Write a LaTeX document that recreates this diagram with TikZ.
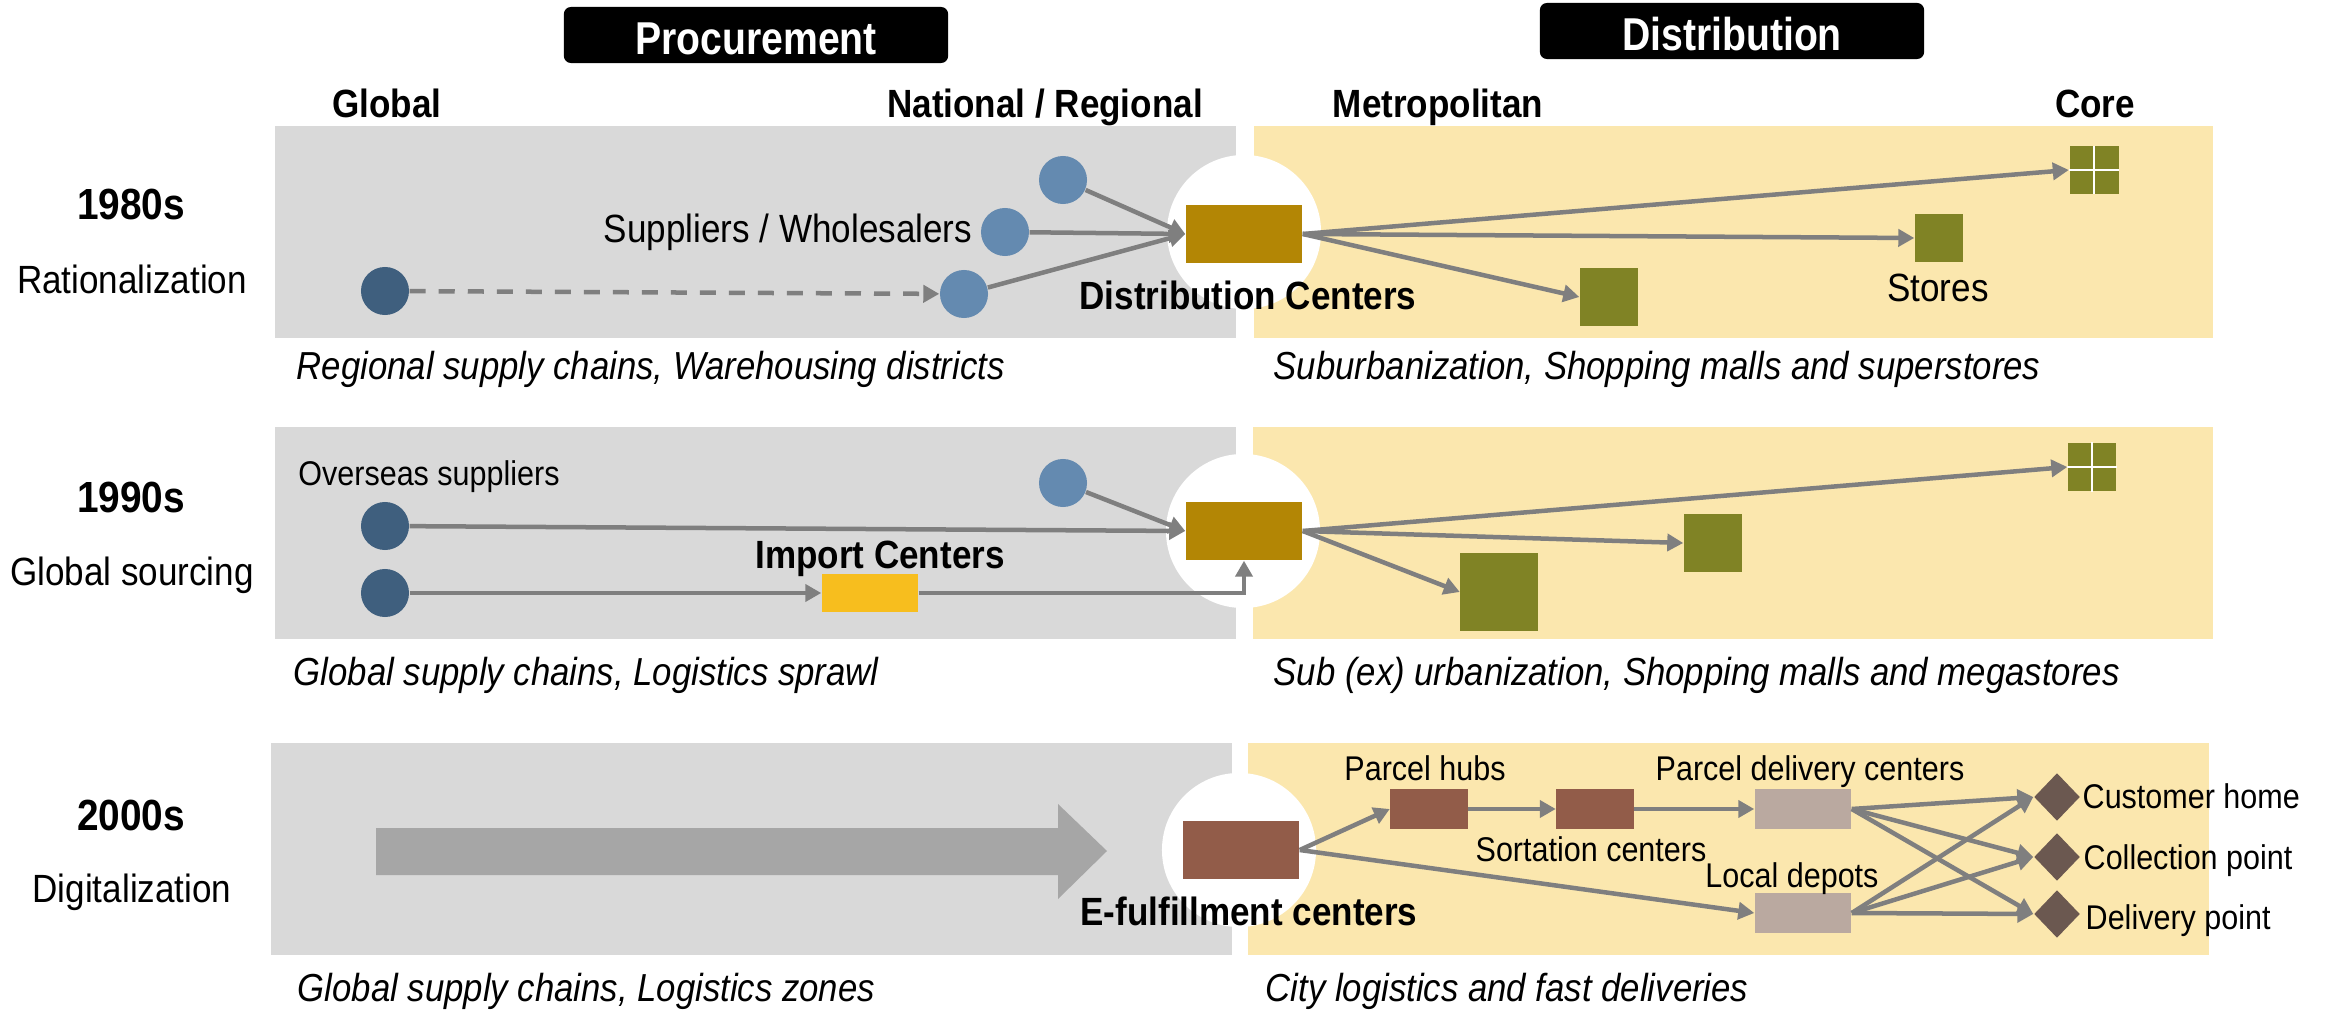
\documentclass[tikz,border=0pt]{standalone}
\usepackage{fontspec}
\setmainfont[FakeStretch=0.89]{Liberation Sans}
\newfontfamily\bannerfont[FakeStretch=0.85]{Liberation Sans}
\usetikzlibrary{shapes.geometric, arrows.meta}

\definecolor{procfill}{HTML}{D9D9D9}
\definecolor{distfill}{HTML}{FBE7AE}
\definecolor{linegray}{HTML}{7F7F7F}
\definecolor{dcfill}{HTML}{B38605}
\definecolor{suppfill}{HTML}{648AB0}
\definecolor{overfill}{HTML}{3F5F7E}
\definecolor{storefill}{HTML}{808325}
\definecolor{importfill}{HTML}{F7BE1E}
\definecolor{parcelfill}{HTML}{925C49}
\definecolor{depotfill}{HTML}{BAA9A0}
\definecolor{homefill}{HTML}{6B5850}

\tikzset{
  base/.style = {font = \fontsize{11.2}{13}\selectfont, inner sep = 0,
        text height = 0.29cm, text depth = 0.08cm},
  small/.style = {font = \fontsize{9.75}{12}\selectfont, inner sep = 0,
        text height = 0.25cm, text depth = 0.07cm},
  strong/.style = {base, font = \fontsize{11.2}{13}\selectfont\bfseries},
  decade/.style = {base, font = \fontsize{12.4}{14}\selectfont\bfseries,
        text height = 0.32cm, text depth = 0.09cm},
  note/.style = {base, anchor = west, font = \fontsize{11.1}{13}\selectfont\itshape},
  banner/.style = {shape = rectangle, rounded corners = 0.07cm, fill = black, text = white,
        minimum width = 3.84cm, minimum height = 0.56cm, inner sep = 0,
        text height = 0.39cm,
        font = \bannerfont\fontsize{13.1}{15}\selectfont\bfseries},
  blob/.style = {shape = rectangle, inner sep = 0, minimum width = #1},
  halo/.style = {shape = circle, fill = white, minimum size = 1.54cm, inner sep = 0},
  dot/.style = {shape = circle, minimum size = 0.48cm, inner sep = 0},
  gem/.style = {shape = diamond, fill = homefill, minimum width = 0.46cm,
        minimum height = 0.48cm, inner sep = 0},
  flow/.style = {draw = linegray, line width = 0.045cm,
        -{Triangle[length = 0.16cm, width = 0.17cm]}}
}

\begin{document}
\begin{tikzpicture}[x = 0.01cm, y = -0.01cm]
  \useasboundingbox (0, 0) rectangle (2330, 1010);

  \foreach \gl/\gr/\dl/\dr/\top in {
    275/1236/1254/2213/126, 275/1236/1253/2213/427, 271/1232/1248/2209/743
  } {
    \fill [procfill] (\gl, \top) rectangle (\gr, \top + 212);
    \fill [distfill] (\dl, \top) rectangle (\dr, \top + 212);
  }

  \foreach \x/\y [count = \id] in {1244/232, 1243/531, 1239/850}
    \node [halo] (halo\id) at (\x, \y) {};

  \node [banner] (proc) at (756, 35) {Procurement};
  \node [banner] (dist) at (1732, 31) {Distribution};

  \foreach \x/\txt [count = \id] in {
    387/Global, 1045/{National / Regional}, 1438/Metropolitan, 2095/Core
  } \node [strong] (scale\id) at (\x, 107) {\txt};

  \foreach \ya/\yb/\yr/\dsc [count = \id] in {
    208/283/1980s/Rationalization,
    501/575/1990s/Global sourcing,
    819/892/2000s/Digitalization
  } {
    \node [decade] (yr\id) at (131, \ya) {\yr};
    \node [base] (dsc\id) at (132, \yb) {\dsc};
  }

  \foreach \x/\y/\txt [count = \id] in {
    296/369/{Regional supply chains, Warehousing districts},
    1273/369/{Suburbanization, Shopping malls and superstores},
    293/675/{Global supply chains, Logistics sprawl},
    1273/675/{Sub (ex) urbanization, Shopping malls and megastores},
    297/991/{Global supply chains, Logistics zones},
    1265/991/{City logistics and fast deliveries}
  } \node [note] (note\id) at (\x, \y) {\txt};

  % 1980s
  \node [dot, fill = suppfill] (supa) at (1063, 180) {};
  \node [dot, fill = suppfill] (supb) at (1005, 232) {};
  \node [dot, fill = suppfill] (supc) at (964, 294) {};
  \node [dot, fill = overfill] (glob) at (385, 291) {};
  \node [blob = 1.16cm, minimum height = 0.58cm, fill = dcfill] (dca) at (1244, 234) {};
  \node [blob = 0.58cm, minimum height = 0.58cm, fill = storefill] (stoa) at (1609, 297) {};
  \node [blob = 0.48cm, minimum height = 0.48cm, fill = storefill] (stob) at (1939, 238) {};
  \node [blob = 0.49cm, minimum height = 0.47cm, fill = storefill] (corea) at (2094, 170) {};
  \draw [white, line width = 0.02cm] (corea.north) -- (corea.south) (corea.west) -- (corea.east);

  \draw [flow, dash pattern = on 0.16cm off 0.13cm] (glob) -- (supc);
  \foreach \src in {supa, supb, supc}
    \draw [flow] (\src) -- (dca.west);
  \foreach \dst in {stoa, stob, corea}
    \draw [flow] (dca.east) -- (\dst.west);

  \node [base] (suplab) at (788, 232) {Suppliers / Wholesalers};
  \node [strong] (dclab) at (1248, 299) {Distribution Centers};
  \node [base] (stolab) at (1938, 291) {Stores};

  % 1990s
  \node [dot, fill = suppfill] (supd) at (1063, 483) {};
  \node [dot, fill = overfill] (ovea) at (385, 526) {};
  \node [dot, fill = overfill] (oveb) at (385, 593) {};
  \node [blob = 0.96cm, minimum height = 0.37cm, fill = importfill] (imp) at (870, 593) {};
  \node [blob = 1.16cm, minimum height = 0.58cm, fill = dcfill] (dcb) at (1244, 531) {};
  \node [blob = 0.77cm, minimum height = 0.77cm, fill = storefill] (stoc) at (1499, 592) {};
  \node [blob = 0.58cm, minimum height = 0.58cm, fill = storefill] (stod) at (1713, 543) {};
  \node [blob = 0.48cm, minimum height = 0.48cm, fill = storefill] (coreb) at (2092, 467) {};
  \draw [white, line width = 0.02cm] (coreb.north) -- (coreb.south) (coreb.west) -- (coreb.east);

  \draw [flow] (supd) -- (dcb.west);
  \draw [flow] (ovea) -- (dcb.west);
  \draw [flow] (oveb) -- (imp.west);
  \draw [flow] (imp.east) -| (dcb.south);
  \foreach \dst in {stoc, stod, coreb}
    \draw [flow] (dcb.east) -- (\dst.west);

  \node [small] (ovelab) at (429, 476) {Overseas suppliers};
  \node [strong] (implab) at (880, 558) {Import Centers};

  % 2000s
  \fill [black!35] (376, 828) -- (1058, 828) -- (1058, 804) -- (1107, 851)
        -- (1058, 899) -- (1058, 875) -- (376, 875) -- cycle;
  \node [blob = 1.16cm, minimum height = 0.58cm, fill = parcelfill] (efc) at (1241, 850) {};
  \node [blob = 0.77cm, minimum height = 0.39cm, fill = parcelfill] (huba) at (1429, 809) {};
  \node [blob = 0.77cm, minimum height = 0.39cm, fill = parcelfill] (hubb) at (1595, 809) {};
  \node [blob = 0.96cm, minimum height = 0.39cm, fill = depotfill] (pdc) at (1803, 809) {};
  \node [blob = 0.96cm, minimum height = 0.39cm, fill = depotfill] (dep) at (1803, 913) {};
  \node [gem] (home) at (2057, 797) {};
  \node [gem] (coll) at (2057, 857) {};
  \node [gem] (deli) at (2057, 914) {};

  \draw [flow] (efc.east) -- (huba.west);
  \draw [flow] (efc.east) -- (dep.west);
  \draw [flow] (huba) -- (hubb);
  \draw [flow] (hubb) -- (pdc);
  \foreach \src in {pdc, dep}
    \foreach \dst in {home, coll, deli}
      \draw [flow] (\src.east) -- (\dst.west);

  \foreach \x/\y/\txt [count = \id] in {
    1425/771/Parcel hubs,
    1810/771/Parcel delivery centers,
    1591/852/Sortation centers,
    1792/878/Local depots
  } \node [small] (parlab\id) at (\x, \y) {\txt};
  \node [strong] (efclab) at (1249, 915) {E-fulfillment centers};

  \node [small, anchor = west] (homelab) at (2082, 799) {Customer home};
  \node [small, anchor = west] (colllab) at (2083, 860) {Collection point};
  \node [small, anchor = west] (delilab) at (2085, 920) {Delivery point};
\end{tikzpicture}
\end{document}
